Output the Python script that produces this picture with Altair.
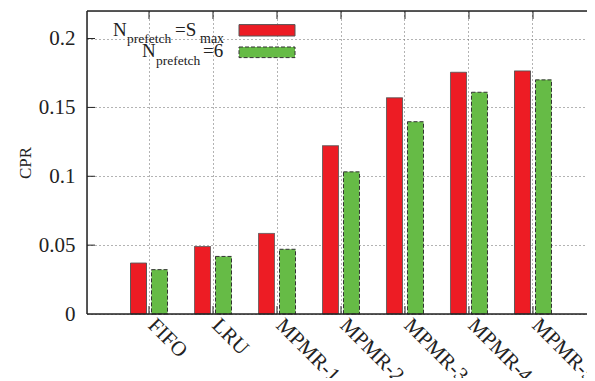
import altair as alt
import pandas as pd

categories = ["FIFO", "LRU", "MPMR-1", "MPMR-2", "MPMR-3", "MPMR-4", "MPMR-5"]
series = ["Smax", "6"]
cpr_smax = [0.037, 0.049, 0.0585, 0.1222, 0.157, 0.1755, 0.1765]
cpr_6 = [0.0322, 0.0418, 0.047, 0.1032, 0.1396, 0.161, 0.170]
y_ticks = [0, 0.05, 0.1, 0.15, 0.2]
colors = ["#ed1c24", "#66bb46"]

W, H = 508, 303
FONT = "Liberation Serif, Times New Roman, Times, serif"

rows = []
for c, a, b in zip(categories, cpr_smax, cpr_6):
    rows.append({"cat": c, "series": series[0], "cpr": a})
    rows.append({"cat": c, "series": series[1], "cpr": b})
df = pd.DataFrame(rows)

xscale = alt.Scale(domain=categories, paddingInner=0, paddingOuter=0.469)
yscale = alt.Scale(domain=[0, 0.22], nice=False, zero=True)

xaxis = alt.Axis(labelAngle=45, labelAlign="left", labelBaseline="top",
                 labelPadding=0, labelOffset=10, labelFont=FONT, labelFontSize=21,
                 labelColor="#222", ticks=False, domain=False,
                 grid=True, gridDash=[1, 3], gridColor="#666",
                 gridWidth=1, bandPosition=0.5, title=None)
yaxis = alt.Axis(values=y_ticks, format=".2~f", labelFont=FONT,
                 labelFontSize=21, labelColor="#222", labelPadding=12,
                 ticks=False, domain=False, grid=True, gridDash=[1, 3],
                 gridColor="#666", gridWidth=1, title="CPR",
                 titleFont=FONT, titleFontSize=17, titleFontWeight="normal",
                 titleColor="#222", titlePadding=4)


def X(field="cat", **kw):
    return alt.X(f"{field}:N", scale=xscale, sort=categories, axis=xaxis, title=None, **kw)


def Y(field="cpr"):
    return alt.Y(f"{field}:Q", scale=yscale, axis=yaxis, title="CPR")


bars = alt.Chart(df).mark_bar(strokeWidth=1).encode(
    x=X(),
    xOffset=alt.XOffset("series:N", sort=series,
                        scale=alt.Scale(domain=series, paddingInner=0.238, paddingOuter=0.643)),
    y=Y(),
    color=alt.Color("series:N", scale=alt.Scale(domain=series, range=colors), legend=None),
    stroke=alt.Stroke("series:N", scale=alt.Scale(domain=series, range=["#555555", "#333333"]), legend=None),
    strokeDash=alt.StrokeDash("series:N", scale=alt.Scale(domain=series, range=[[1, 0], [4, 2]]), legend=None),
)

ytick_df = pd.DataFrame({"cpr": y_ticks[1:]})
ytick_l = alt.Chart(ytick_df).mark_rule(color="#222", strokeWidth=1).encode(
    y=Y(), x=alt.value(0), x2=alt.value(8))
ytick_r = alt.Chart(ytick_df).mark_rule(color="#222", strokeWidth=1).encode(
    y=Y(), x=alt.value(W - 8), x2=alt.value(W))

xtick_df = pd.DataFrame({"cat": categories})
xtick_t = alt.Chart(xtick_df).mark_rule(color="#222", strokeWidth=1).encode(
    x=X(bandPosition=0.5), y=alt.value(0), y2=alt.value(8))
xtick_b = alt.Chart(xtick_df).mark_rule(color="#222", strokeWidth=1).encode(
    x=X(bandPosition=0.5), y=alt.value(H - 8), y2=alt.value(H))

one = pd.DataFrame({"k": [0]})
frame = [
    alt.Chart(one).mark_rule(color="#222", strokeWidth=1.5).encode(x=alt.value(0), x2=alt.value(W), y=alt.value(H)),
    alt.Chart(one).mark_rule(color="#222", strokeWidth=1.5).encode(x=alt.value(0), x2=alt.value(W), y=alt.value(0)),
    alt.Chart(one).mark_rule(color="#222", strokeWidth=1.5).encode(x=alt.value(0), y=alt.value(0), y2=alt.value(H)),
    alt.Chart(one).mark_rule(color="#222", strokeWidth=1.5).encode(x=alt.value(W), y=alt.value(0), y2=alt.value(H)),
]


def txt(s, x, y, size):
    return alt.Chart(pd.DataFrame({"t": [s]})).mark_text(
        align="left", baseline="alphabetic", font=FONT, fontSize=size, color="#222"
    ).encode(text="t:N", x=alt.value(x), y=alt.value(y))


legend_text = [
    txt("N", 26, 24.5, 19), txt("prefetch", 40, 32.3, 13.5),
    txt("=S", 88, 24.5, 19), txt("max", 113, 32.3, 14),
    txt("N", 55, 46, 19), txt("prefetch", 69, 54.3, 13.5),
    txt("=6", 116, 46, 19),
]

swatch_red = alt.Chart(one).mark_rect(fill=colors[0], stroke="#555555", strokeWidth=1).encode(
    x=alt.value(152), x2=alt.value(208), y=alt.value(13.6), y2=alt.value(25))
swatch_green = alt.Chart(one).mark_rect(fill=colors[1], stroke="#333333", strokeWidth=1, strokeDash=[4, 2]).encode(
    x=alt.value(152), x2=alt.value(208), y=alt.value(36), y2=alt.value(46.6))

chart = alt.layer(
    bars, ytick_l, ytick_r, xtick_t, xtick_b, *frame, *legend_text, swatch_red, swatch_green
).properties(
    width=W, height=H,
    autosize=alt.AutoSizeParams(type="none"),
    padding={"left": 79, "top": 3, "right": -8, "bottom": 64},
).configure_view(stroke=None).configure(
    background="white", font=FONT
).configure_axis(labelFont=FONT, titleFont=FONT).configure_text(font=FONT)

chart.save("out.html", embed_options={"renderer": "svg", "actions": False})
